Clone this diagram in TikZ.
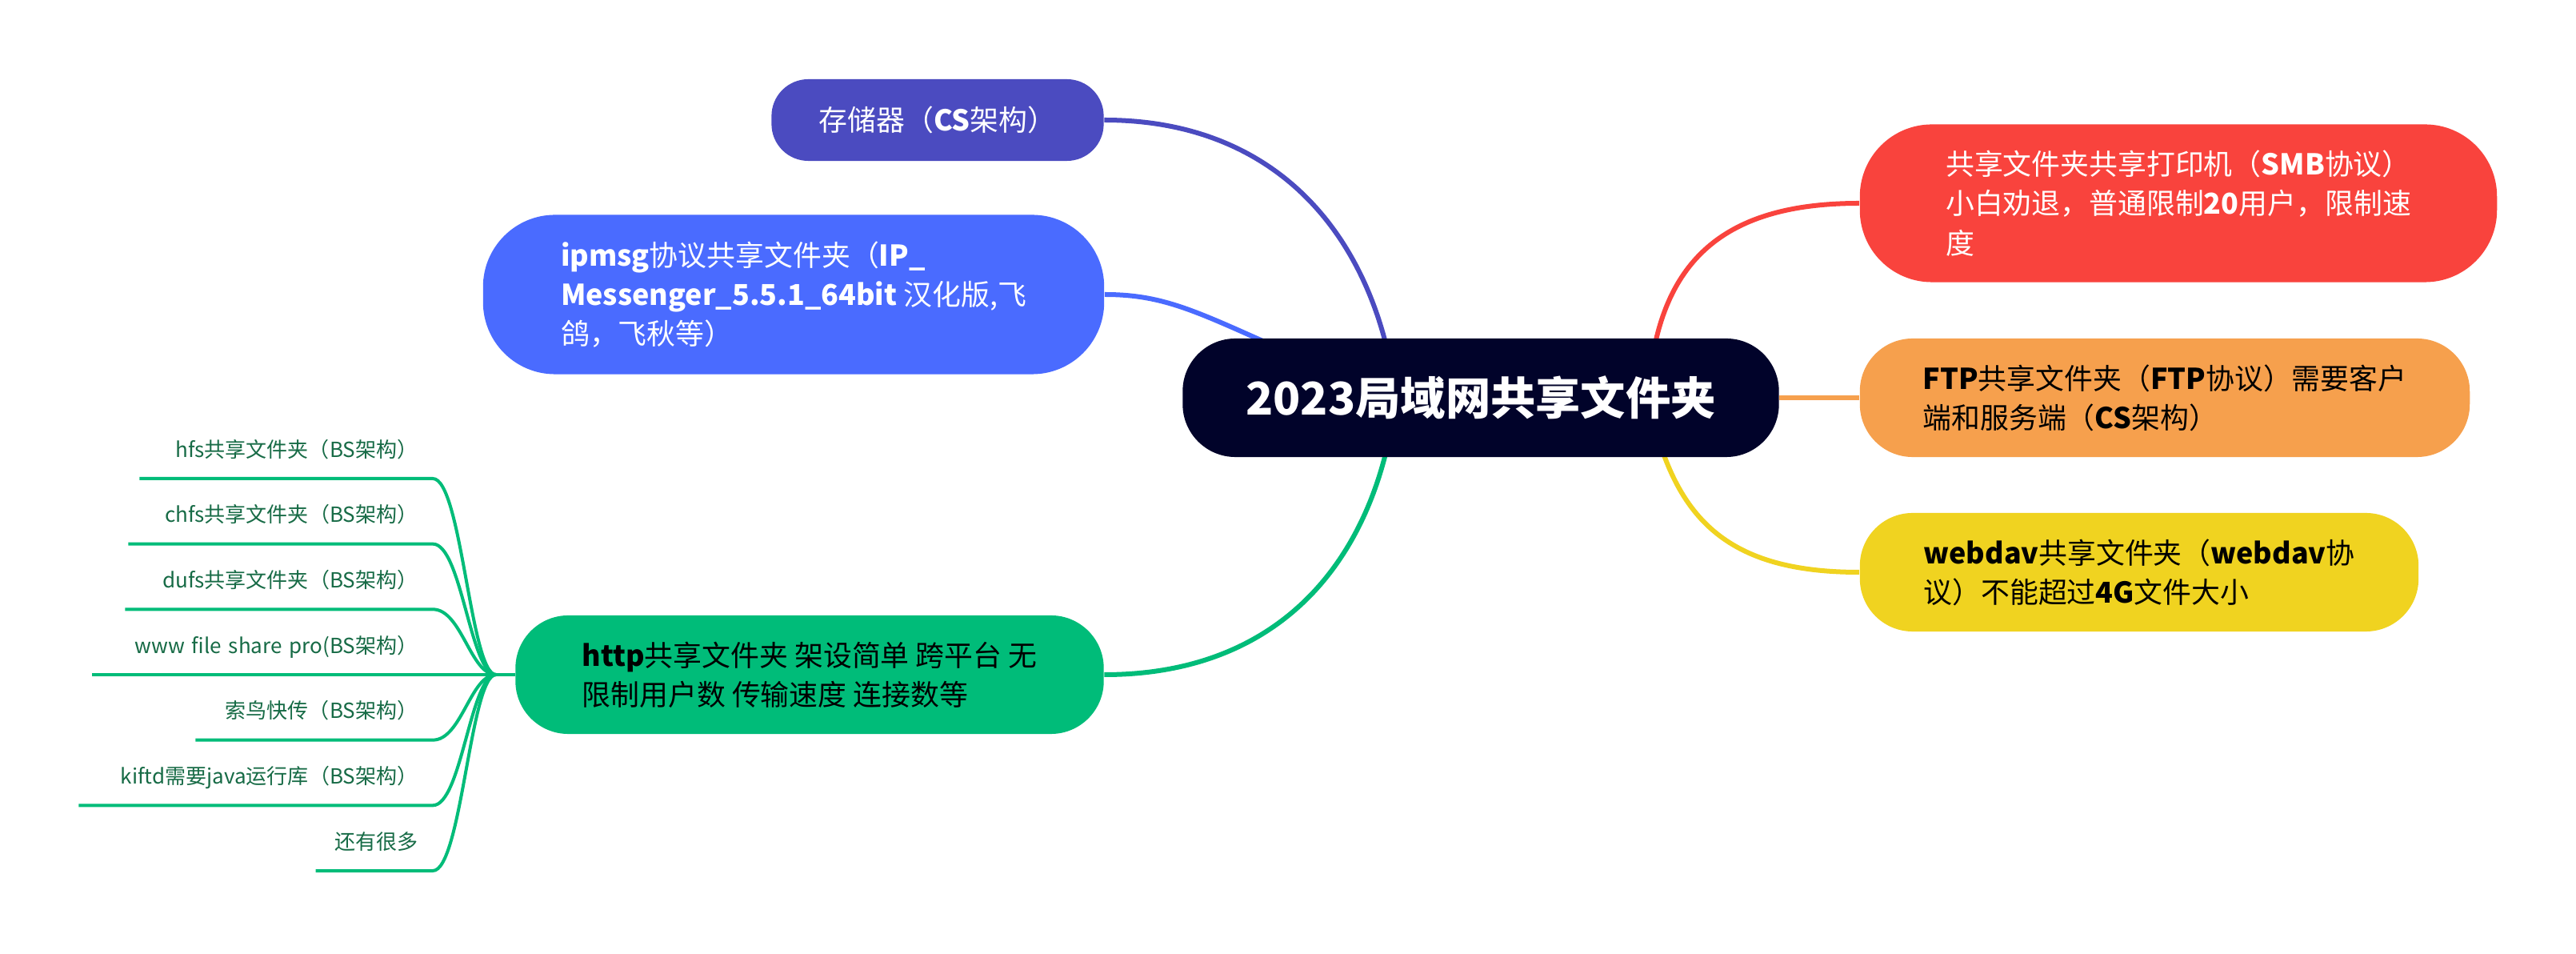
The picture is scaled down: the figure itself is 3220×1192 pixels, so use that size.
\documentclass[tikz,border=0pt]{standalone}
\usepackage{fontspec}
\setmainfont{Noto Sans CJK SC}
\usetikzlibrary{backgrounds}

\definecolor{rootbg}{HTML}{01032A}
\definecolor{csbg}{HTML}{4B4BC0}
\definecolor{ipbg}{HTML}{4A6BFF}
\definecolor{httpbg}{HTML}{00BC79}
\definecolor{smbbg}{HTML}{F9433D}
\definecolor{ftpbg}{HTML}{F6A04D}
\definecolor{davbg}{HTML}{F0D320}
\definecolor{leaftext}{HTML}{176B46}

\newcommand{\en}[1]{{\bfseries #1}}

\tikzset{
  topic/.style={fill=#1, align=left, inner sep=0pt,
    font=\fontsize{10.2}{14}\selectfont},
  root/.style={fill=rootbg, text=white, rounded corners=0.66cm,
    minimum width=7.45cm, minimum height=1.48cm,
    font=\fontsize{16}{20}\selectfont\bfseries},
  branch/.style={draw=#1, line width=0.06cm},
  leaf/.style={anchor=south east, text=leaftext, align=right,
    inner xsep=0.18cm, inner ysep=0.26cm, text depth=0pt,
    font=\fontsize{7.4}{9}\selectfont},
  twig/.style={draw=httpbg, line width=0.04cm},
}

\begin{document}
\begin{tikzpicture}[x=0.01cm, y=-0.01cm]
  \useasboundingbox (0,0) rectangle (3220,1192);
  % central topic
  \node[root] (root) at (1851,497) {2023局域网共享文件夹};
  % left topics
  \node[topic=csbg, text=white, minimum width=4.15cm, minimum height=1.02cm,
    rounded corners=0.46cm] (cs) at (1172,150) {存储器（\en{CS}架构）};
  \node[topic=ipbg, text=white, minimum width=7.76cm, minimum height=1.99cm,
    rounded corners=0.9cm] (ipmsg) at (992,368)
    {\en{ipmsg}协议共享文件夹（\en{IP\_}\\
     \en{Messenger\_5.5.1\_64bit} 汉化版,飞\\
     鸽，飞秋等）};
  \node[topic=httpbg, text=black, minimum width=7.35cm, minimum height=1.48cm,
    rounded corners=0.66cm] (http) at (1012,843)
    {\en{http}共享文件夹 架设简单 跨平台 无\\
     限制用户数 传输速度 连接数等};
  % right topics
  \node[topic=smbbg, text=white, minimum width=7.96cm, minimum height=1.97cm,
    rounded corners=0.9cm] (smb) at (2723,254)
    {共享文件夹共享打印机（\en{SMB}协议）\\
     小白劝退，普通限制\en{20}用户，限制速\\
     度};
  \node[topic=ftpbg, text=black, minimum width=7.62cm, minimum height=1.48cm,
    rounded corners=0.66cm] (ftp) at (2706,497)
    {\en{FTP}共享文件夹（\en{FTP}协议）需要客户\\
     端和服务端（\en{CS}架构）};
  \node[topic=davbg, text=black, minimum width=6.98cm, minimum height=1.48cm,
    rounded corners=0.66cm] (dav) at (2674,715)
    {\en{webdav}共享文件夹（\en{webdav}协\\
     议）不能超过\en{4G}文件大小};

  % http subtopics
  \coordinate (hub) at (620,843);
  \foreach \nm/\tw/\txt [count=\i from 0] in {
      hfs/3.29/hfs共享文件夹（BS架构）,
      chfs/3.43/chfs共享文件夹（BS架构）,
      dufs/3.47/dufs共享文件夹（BS架构）,
      www/3.88/www file share pro(BS架构）,
      suoniao/2.59/索鸟快传（BS架构）,
      kiftd/4.05/kiftd需要java运行库（BS架构）,
      more/1.09/还有很多} {
    \node[leaf, text width=\tw cm] (\nm) at (541,{843+81.67*(\i-3)}) {\txt};
    \draw[twig] (\nm.south west) -- (\nm.south east)
      .. controls +(36,0) and +(-32,0) .. (hub);
  }
  \draw[twig] (hub) -- (http.west);

  % branches, behind the topics
  \coordinate (lhub) at (1745,497);
  \coordinate (rhub) at (2060,497);
  \begin{pgfonlayer}{background}
    \fill[white] (0,0) rectangle (3220,1192);
    \draw[branch=csbg] (cs.east) .. controls +(220,0) and +(-25,-197) .. (lhub);
    \draw[branch=ipbg] (ipmsg.east) .. controls +(100,0) and +(-225,-90) .. (lhub);
    \draw[branch=httpbg] (http.east) .. controls +(220,0) and +(-25,203) .. (lhub);
    \draw[branch=smbbg] (smb.west) .. controls +(-175,0) and +(10,-167) .. (rhub);
    \draw[branch=ftpbg] (root.east) -- (ftp.west);
    \draw[branch=davbg] (dav.west) .. controls +(-175,0) and +(30,143) .. (rhub);
  \end{pgfonlayer}
\end{tikzpicture}
\end{document}
